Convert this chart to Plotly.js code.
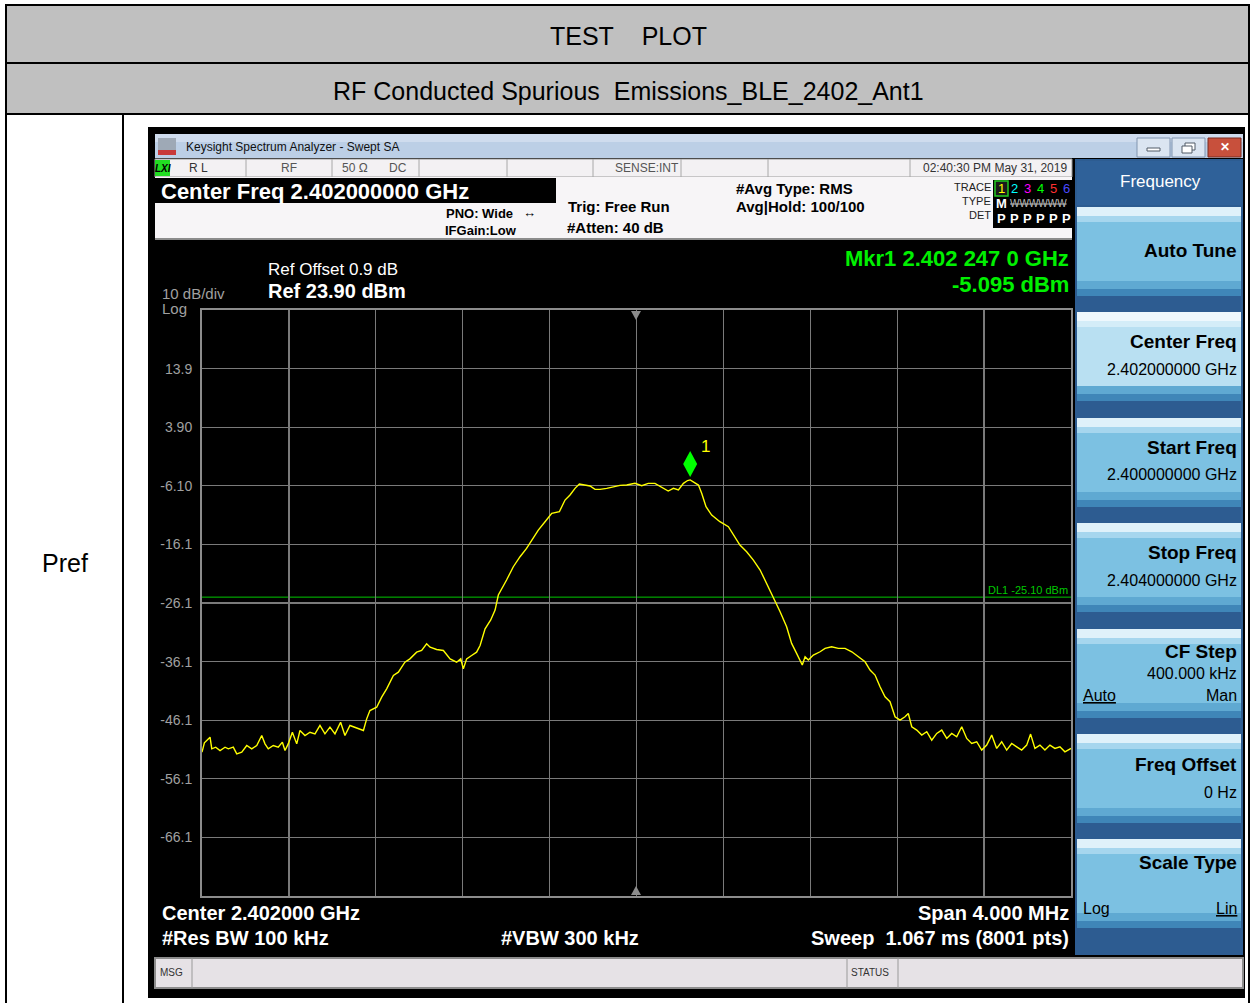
<!DOCTYPE html>
<html><head><meta charset="utf-8">
<script src="https://cdn.plot.ly/plotly-3.0.1.min.js"></script>
<style>html,body{margin:0;padding:0;background:#fff;}#chart{width:1252px;height:1003px;}</style>
</head><body><div id="chart"></div>
<script>
// ---------------- data ----------------
const startFreqMHz = 2400, stopFreqMHz = 2404, centerFreqMHz = 2402;
const refLevelDbm = 23.9, dbPerDiv = 10;
const freqOffsetMHz = [
0.000,0.011,0.037,0.045,0.063,0.083,0.106,0.121,0.144,0.160,0.183,0.206,0.229,0.252,0.275,0.290,0.305,0.328,0.351,0.370,
0.382,0.397,0.416,0.436,0.451,0.474,0.497,0.520,0.543,0.566,0.589,0.612,0.638,0.658,0.681,0.704,0.727,0.743,0.758,0.773,
0.804,0.827,0.850,0.881,0.904,0.934,0.957,0.988,1.011,1.034,1.050,1.080,1.111,1.142,1.172,1.191,1.203,1.218,1.241,1.264,
1.280,1.303,1.329,1.349,1.364,1.387,1.402,1.433,1.464,1.494,1.517,1.548,1.579,1.610,1.645,1.671,1.694,1.717,1.737,1.763,
1.786,1.809,1.832,1.863,1.893,1.924,1.955,1.993,2.024,2.054,2.085,2.108,2.131,2.146,2.170,2.193,2.216,2.235,2.247,2.262,
2.285,2.300,2.320,2.346,2.384,2.423,2.476,2.507,2.538,2.569,2.599,2.630,2.661,2.691,2.714,2.737,2.753,2.763,2.776,2.791,
2.814,2.845,2.868,2.898,2.929,2.960,2.991,3.021,3.052,3.075,3.098,3.121,3.144,3.167,3.190,3.213,3.236,3.251,3.267,3.290,
3.313,3.336,3.359,3.382,3.405,3.428,3.451,3.474,3.497,3.520,3.543,3.566,3.589,3.612,3.635,3.658,3.681,3.704,3.727,3.750,
3.773,3.796,3.814,3.834,3.857,3.880,3.903,3.926,3.949,3.972,4.000];
const levelDbm = [
-51.56,-49.97,-49.00,-50.99,-50.71,-51.28,-50.71,-50.99,-50.71,-51.84,-51.56,-50.42,-50.99,-50.42,-48.72,-50.14,-50.99,-50.42,-50.71,-49.85,
-51.28,-50.14,-48.15,-50.14,-47.86,-48.72,-48.15,-48.43,-47.00,-48.43,-47.29,-48.43,-46.44,-48.72,-47.00,-47.29,-47.58,-47.86,-45.87,-44.45,
-43.88,-42.17,-40.75,-38.47,-37.90,-36.20,-35.63,-34.49,-34.21,-33.07,-33.64,-34.03,-34.21,-35.63,-36.20,-35.63,-37.34,-35.63,-35.06,-34.49,
-33.35,-30.51,-29.00,-27.30,-24.74,-23.32,-22.18,-19.91,-18.20,-16.78,-15.36,-13.65,-12.23,-10.80,-10.52,-8.53,-7.67,-6.54,-5.80,-5.97,
-6.14,-6.71,-6.71,-6.54,-6.25,-6.02,-5.97,-5.68,-6.08,-5.68,-5.68,-6.14,-6.71,-6.99,-6.54,-6.82,-5.68,-5.20,-5.10,-5.40,
-5.97,-7.39,-9.67,-11.09,-12.23,-13.08,-16.21,-17.35,-18.77,-20.48,-22.75,-25.31,-27.59,-30.15,-33.00,-34.70,-35.84,-36.69,-35.27,-35.84,
-34.99,-34.42,-33.85,-33.57,-33.85,-33.85,-34.42,-35.27,-36.13,-37.55,-38.40,-40.39,-42.10,-42.95,-45.51,-46.08,-45.51,-44.95,-47.22,-47.79,
-48.64,-48.07,-49.50,-48.36,-47.79,-49.21,-48.36,-48.93,-47.22,-49.21,-50.07,-49.78,-51.20,-50.35,-48.64,-50.92,-49.78,-51.20,-50.07,-50.64,
-51.20,-50.35,-48.47,-50.92,-50.35,-51.20,-50.35,-50.92,-50.64,-51.49,-50.92];
const yTickVals = [13.9, 3.9, -6.1, -16.1, -26.1, -36.1, -46.1, -56.1, -66.1];
const yTickLabels = ['13.9', '3.90', '-6.10', '-16.1', '-26.1', '-36.1', '-46.1', '-56.1', '-66.1'];
const markerFreqMHz = 2402.247, markerDbm = -5.095;
const displayLineDbm = -25.10;

// ---------------- helpers ----------------
const FONT = 'Liberation Sans, Arial, Helvetica, sans-serif';
const W = 1252, H = 1003;
const shapes = [], ann = [];
const fx = x => x / W, fy = y => 1 - y / H;
function rect(x0,y0,x1,y1,fill,stroke,sw,layer){
  shapes.push({type:'rect',xref:'paper',yref:'paper',x0:fx(x0),x1:fx(x1),y0:fy(y1),y1:fy(y0),
    fillcolor:fill,line:{color:stroke||'rgba(0,0,0,0)',width:stroke?(sw||1):0},layer:layer||'below'});
}
function seg(x0,y0,x1,y1,color,w,layer){
  shapes.push({type:'line',xref:'paper',yref:'paper',x0:fx(x0),x1:fx(x1),y0:fy(y0),y1:fy(y1),
    line:{color:color,width:w||1},layer:layer||'below'});
}
function txt(x,y,t,size,color,anchor,bold,family){
  ann.push({xref:'paper',yref:'paper',x:fx(x),y:fy(y),text:bold?'<b>'+t+'</b>':t,showarrow:false,
    xanchor:anchor||'left',yanchor:'middle',borderpad:0,font:{family:family||FONT,size:size,color:color}});
}

// ---------------- report table ----------------
rect(5,5,1250,63,'#c0c0c0');
rect(5,63,1250,114,'#c0c0c0');
seg(5,5,1250,5,'#000',2); seg(5,63,1250,63,'#000',2); seg(5,114,1250,114,'#000',2);
seg(6,5,6,1003,'#000',2); seg(1249,5,1249,1003,'#000',2); seg(123,114,123,1003,'#000',2);
txt(628,36,'TEST\u00a0\u00a0\u00a0\u00a0PLOT',25,'#000','center');
txt(628,91,'RF Conducted Spurious\u00a0\u00a0Emissions_BLE_2402_Ant1',25,'#000','center');
txt(65,563,'Pref',25,'#000','center');

// ---------------- analyzer window ----------------
rect(148,127,1245,998,'#000000');
// title bar
rect(155,134,1243,158,'#bccfe6');
rect(155,134,1243,142,'#cfdcee');
rect(158,138,176,155,'#9ea9b6'); rect(158,150,176,155,'#c83a3a');
txt(185,147,'Keysight Spectrum Analyzer - Swept SA',12,'#111','left');
rect(1137,138,1170,157,'#dbe5f1','#8195b0'); rect(1147,148,1160,151,'#ffffff','#505a66');
rect(1172,138,1205,157,'#dbe5f1','#8195b0'); rect(1185,143,1195,150,'#ffffff','#505a66'); rect(1182,146,1192,153,'#ffffff','#505a66');
rect(1208,138,1241,157,'#c8503c','#7a2a1e');
txt(1224.5,147,'✕',12,'#ffffff','center',true);
// status row
rect(155,159,1072,177,'#f3f1f3','#9a9a9a');
[246,332,419,507,593,681,768,910].forEach(x=>seg(x,159,x,177,'#a8a8a8',1));
rect(155,160,170,176,'#22dd22');
txt(162.5,168,'<i>LXI</i>',10,'#000','center',true);
txt(188,168,'R L',12,'#333','left');
txt(289,168,'RF',12,'#555','center');
txt(341,168,'50 Ω',12,'#555','left');
txt(388,168,'DC',12,'#555','left');
txt(680,168,'SENSE:INT',12,'#555','right');
txt(1068,168,'02:40:30 PM May 31, 2019',12,'#333','right');
// header area
rect(155,177,1072,240,'#f7f5f7');
seg(155,239,1072,239,'#8c8c8c',2);
rect(155,178,556,203,'#000000');
txt(160,191,'Center Freq 2.402000000 GHz',22,'#ffffff','left',true);
txt(445,213,'PNO: Wide',13,'#000','left',true);
txt(522,212,'↔',13,'#000','left',true);
txt(444,230,'IFGain:Low',13,'#000','left',true);
txt(567,207,'Trig: Free Run',15,'#000','left',true);
txt(566,227,'#Atten: 40 dB',15,'#000','left',true);
txt(735,188,'#Avg Type: RMS',15,'#000','left',true);
txt(735,207,'Avg|Hold: 100/100',15,'#000','left',true);
txt(992,187,'TRACE',11,'#222','right');
txt(992,201,'TYPE',11,'#222','right');
txt(992,215,'DET',11,'#222','right');
rect(993,180,1073,228,'#000000');
rect(995,181,1008,196,'#1a1a1a','#22cc22',1.5);
const traceCols = ['#ffff00','#00ffff','#ff00ff','#00ff00','#ff3030','#4a4aff'];
const traceX = [1001.5,1014,1027,1040,1053,1066];
traceX.forEach((x,i)=>{
  txt(x,188.5,String(i+1),13,traceCols[i],'center');
  txt(x,218,'P',13,'#ffffff','center',true);
});
txt(1001.5,203,'M',13,'#ffffff','center',true);
txt(1038,203,'<s>WWWWWW</s>',10,'#bdbdbd','center');

// right soft-key panel
rect(1075,159,1243,955,'#2d5c91');
rect(1077,161,1241,205,'#2f6199');
txt(1160,181,'Frequency',17,'#ffffff','center');
const btnTops = [207,312,418,523,629,734,839];
btnTops.forEach((t,i)=>{
  const main = i===1 ? '#b9e0f2' : '#7cc1e2';
  rect(1077,t,1241,t+89,main);
  rect(1077,t,1241,t+9,i===1?'#eef8fd':'#dff1fa');
  rect(1077,t+9,1241,t+15,i===1?'#d4edf8':'#a6d6ee');
  rect(1077,t+74,1241,t+82,'#5fa9d2');
  rect(1077,t+82,1241,t+89,'#3f86b8');
});
txt(1238,250,'Auto Tune',19,'#000','right',true);
txt(1238,341,'Center Freq',19,'#000','right',true);
txt(1238,369,'2.402000000 GHz',16,'#000','right');
txt(1238,447,'Start Freq',19,'#000','right',true);
txt(1238,475,'2.400000000 GHz',16,'#000','right');
txt(1238,552,'Stop Freq',19,'#000','right',true);
txt(1238,580,'2.404000000 GHz',16,'#000','right');
txt(1238,651,'CF Step',19,'#000','right',true);
txt(1238,673,'400.000 kHz',16,'#000','right');
txt(1082,695,'<u>Auto</u>',16,'#000','left');
txt(1238,695,'Man',16,'#000','right');
txt(1238,764,'Freq Offset',19,'#000','right',true);
txt(1238,792,'0 Hz',16,'#000','right');
txt(1238,862,'Scale Type',19,'#000','right',true);
txt(1082,908,'Log',16,'#000','left');
txt(1238,908,'<u>Lin</u>',16,'#000','right');

// message bar
rect(155,958,1243,988,'#e6e2e6','#8c8c8c',2);
seg(192,958,192,988,'#9a9a9a',1); seg(847,958,847,988,'#9a9a9a',1); seg(898,958,898,988,'#9a9a9a',1);
txt(159,972,'MSG',10,'#333','left');
txt(850,972,'STATUS',10,'#333','left');

// plot surrounding text
txt(267,270,'Ref Offset 0.9 dB',17,'#ffffff','left');
txt(267,291,'Ref 23.90 dBm',20,'#ffffff','left',true);
txt(161,293,'10 dB/div',15,'#a0a0a0','left');
txt(161,308,'Log',15,'#a0a0a0','left');
txt(1070,259,'Mkr1 2.402 247 0 GHz',22,'#00f000','right',true);
txt(1070,285,'-5.095 dBm',22,'#00f000','right',true);
txt(161,913,'Center 2.402000 GHz',20,'#ffffff','left',true);
txt(1070,913,'Span 4.000 MHz',20,'#ffffff','right',true);
txt(161,938,'#Res BW 100 kHz',20,'#ffffff','left',true);
txt(500,938,'#VBW 300 kHz',20,'#ffffff','left',true);
txt(1070,938,'Sweep\u00a0\u00a01.067 ms (8001 pts)',20,'#ffffff','right',true);

// center markers on graticule
shapes.push({type:'path',xref:'paper',yref:'paper',layer:'above',fillcolor:'#8c8c8c',line:{width:0},
  path:`M ${fx(631)} ${fy(311)} L ${fx(641)} ${fy(311)} L ${fx(636)} ${fy(320)} Z`});
shapes.push({type:'path',xref:'paper',yref:'paper',layer:'above',fillcolor:'#8c8c8c',line:{width:0},
  path:`M ${fx(631)} ${fy(895)} L ${fx(641)} ${fy(895)} L ${fx(636)} ${fy(886)} Z`});

// display line
shapes.push({type:'line',xref:'x',yref:'y',x0:startFreqMHz,x1:stopFreqMHz,y0:displayLineDbm,y1:displayLineDbm,
  line:{color:'#00c800',width:1},layer:'below'});
ann.push({xref:'x',yref:'y',x:stopFreqMHz,y:displayLineDbm,xanchor:'right',yanchor:'bottom',showarrow:false,
  xshift:-2,borderpad:0,text:'DL1 -25.10 dBm',font:{family:FONT,size:11,color:'#00c800'}});

// marker diamond
shapes.push({type:'path',xref:'x',yref:'y',xsizemode:'pixel',ysizemode:'pixel',xanchor:markerFreqMHz,yanchor:markerDbm,
  path:'M 0 3 L 7 16 L 0 29 L -7 16 Z',fillcolor:'#00ff00',line:{width:0},layer:'above'});
ann.push({xref:'x',yref:'y',x:markerFreqMHz,y:markerDbm,showarrow:false,xanchor:'left',yanchor:'middle',
  xshift:10,yshift:33,borderpad:0,text:'1',font:{family:FONT,size:17,color:'#ffff00'}});

// ---------------- plot ----------------
const trace = {
  type:'scatter', mode:'lines',
  x: freqOffsetMHz.map(f => startFreqMHz + f),
  y: levelDbm,
  line:{color:'#ffff00',width:1.4},
  hoverinfo:'skip'
};

const layout = {
  width:W, height:H,
  margin:{l:0,r:0,t:0,b:0},
  paper_bgcolor:'#ffffff', plot_bgcolor:'#000000',
  showlegend:false,
  xaxis:{domain:[fx(202),fx(1071)], range:[startFreqMHz,stopFreqMHz], tick0:startFreqMHz, dtick:(stopFreqMHz-startFreqMHz)/10,
    showticklabels:false, ticks:'', showgrid:true, gridcolor:'#7a7a7a', gridwidth:1.3, zeroline:false,
    showline:true, linecolor:'#8c8c8c', linewidth:2, mirror:true, fixedrange:true},
  yaxis:{domain:[fy(896),fy(310)], range:[refLevelDbm-10*dbPerDiv, refLevelDbm], tickmode:'array',
    tickvals:yTickVals, ticktext:yTickLabels, ticks:'', ticklabelstandoff:5,
    tickfont:{family:FONT,size:14,color:'#a0a0a0'},
    showgrid:true, gridcolor:'#7a7a7a', gridwidth:1.3, zeroline:false,
    showline:true, linecolor:'#8c8c8c', linewidth:2, mirror:true, fixedrange:true},
  shapes:shapes,
  annotations:ann
};

Plotly.newPlot('chart',[trace],layout,{displayModeBar:false,staticPlot:true});
</script>
</body></html>
